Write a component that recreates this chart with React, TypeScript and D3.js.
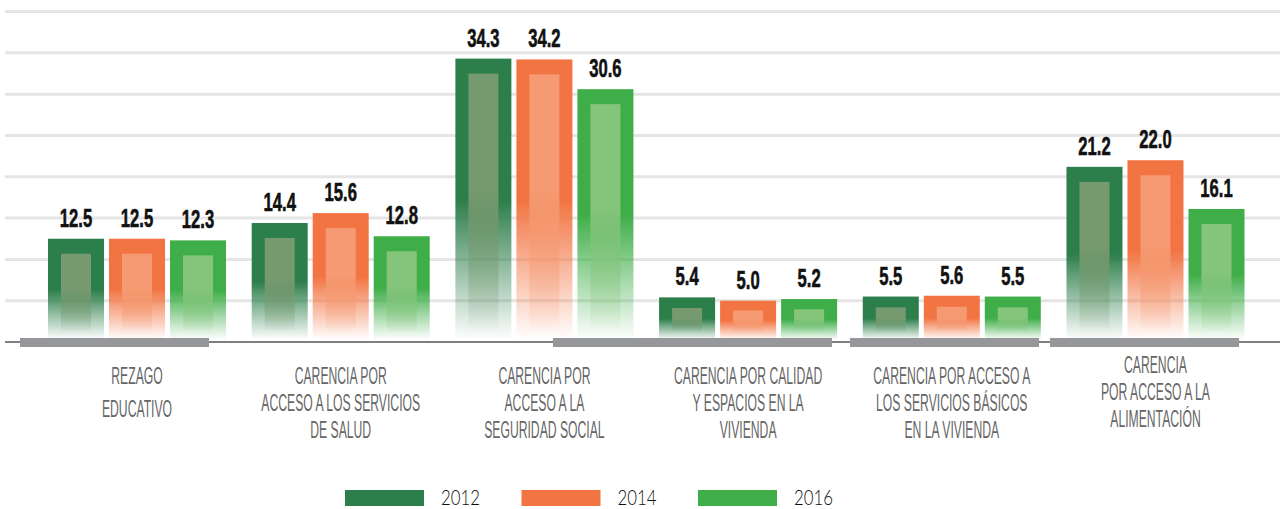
import React from "react";
import * as d3 from "d3";

const categories = [
  "Rezago educativo",
  "Servicios de salud",
  "Seguridad social",
  "Calidad y espacios",
  "Servicios básicos",
  "Alimentación",
];
const labelLines = [
  ["REZAGO", "EDUCATIVO"],
  ["CARENCIA POR", "ACCESO A LOS SERVICIOS", "DE SALUD"],
  ["CARENCIA POR", "ACCESO A LA", "SEGURIDAD SOCIAL"],
  ["CARENCIA POR CALIDAD", "Y ESPACIOS EN LA", "VIVIENDA"],
  ["CARENCIA POR ACCESO A", "LOS SERVICIOS BÁSICOS", "EN LA VIVIENDA"],
  ["CARENCIA", "POR ACCESO A LA", "ALIMENTACIÓN"],
];
const years = ["2012", "2014", "2016"];
const values2012 = [12.5, 14.4, 34.3, 5.4, 5.5, 21.2];
const values2014 = [12.5, 15.6, 34.2, 5.0, 5.6, 22.0];
const values2016 = [12.3, 12.8, 30.6, 5.2, 5.5, 16.1];
const yTicks = [0, 5, 10, 15, 20, 25, 30, 35, 40];

const colors = ["#2c7e4a", "#f27442", "#3fae49"];
const innerColors = ["#76996f", "#f59a72", "#84c47b"];

const W = 1280;
const H = 509;
const baseY = 342;

// decorative gray segments on the baseline
const graySegments = [
  [20, 209],
  [553, 832],
  [850, 1039],
  [1050, 1239],
];

export default function App() {
  const series = [values2012, values2014, values2016];
  const x = d3.scaleBand().domain(categories).range([48, 1244.5]).paddingInner(0.126).paddingOuter(0);
  const xi = d3.scaleBand().domain(years).range([0, x.bandwidth()]).paddingInner(0.082);
  const y = d3.scaleLinear().domain([0, 40]).range([baseY, 11.5]);

  return (
    <svg width={W} height={H} style={{ position: "absolute", left: 0, top: 0 }}>
      <defs>
        {colors.map((c, i) => (
          <linearGradient key={i} id={`fade${i}`} x1="0" y1="0" x2="0" y2="1">
            <stop offset="0" stopColor={c} />
            <stop offset="0.5" stopColor={c} />
            <stop offset="1" stopColor={c} stopOpacity={0} />
          </linearGradient>
        ))}
        {innerColors.map((c, i) => (
          <linearGradient key={i} id={`fadeIn${i}`} x1="0" y1="0" x2="0" y2="1">
            <stop offset="0" stopColor={c} />
            <stop offset="0.45" stopColor={c} />
            <stop offset="1" stopColor={c} stopOpacity={0} />
          </linearGradient>
        ))}
      </defs>
      <rect width={W} height={H} fill="#fff" />
      {yTicks.slice(1).map((t) => (
        <line key={t} x1={5} x2={W} y1={y(t)} y2={y(t)} stroke="#e5e5e5" strokeWidth={3} />
      ))}

      {categories.map((cat, ci) =>
        series.map((vals, si) => {
          const bx = (x(cat) as number) + (xi(years[si]) as number);
          const bw = xi.bandwidth();
          const top = y(vals[ci]);
          const h = baseY - 2 - top;
          const inset = Math.min(15, h * 0.25);
          return (
            <g key={`${ci}-${si}`}>
              <rect x={bx} y={top} width={bw} height={h} fill={`url(#fade${si})`} />
              <rect x={bx + 13} y={top + inset} width={bw - 26} height={h - inset - 8} fill={`url(#fadeIn${si})`} />
              <text
                transform={`translate(${bx + bw / 2},${top - 12}) scale(0.64,1)`}
                textAnchor="middle"
                fontFamily="'Liberation Sans', Arial, sans-serif"
                fontWeight={700}
                fontSize={26}
                fill="#111"
                stroke="#111"
                strokeWidth={0.6}
              >
                {vals[ci].toFixed(1)}
              </text>
            </g>
          );
        })
      )}

      <line x1={5} x2={W} y1={baseY} y2={baseY} stroke="#555" strokeWidth={1.5} />
      {graySegments.map(([a, b], i) => (
        <rect key={i} x={a} y={baseY - 4} width={b - a} height={9} fill="#96979b" />
      ))}

      {categories.map((cat, ci) => {
        const cx = (x(cat) as number) + x.bandwidth() / 2;
        const lines = labelLines[ci];
        const start = ci === 5 ? 373 : 384;
        const lh = lines.length === 2 ? 33 : 27;
        return (
          <g key={cat} transform={`translate(${cx},0) scale(0.53,1)`}>
            <text textAnchor="middle" fontFamily="'Liberation Sans', Arial, sans-serif" fontSize={23} fill="#666">
              {lines.map((l, li) => (
                <tspan key={li} x={0} y={start + li * lh}>
                  {l}
                </tspan>
              ))}
            </text>
          </g>
        );
      })}

      {years.map((yr, i) => (
        <g key={yr} transform={`translate(${345 + i * 176.5},490)`}>
          <rect width={79} height={16} fill={colors[i]} />
          <text
            x={96}
            y={14.5}
            textLength={39}
            lengthAdjust="spacingAndGlyphs"
            fontFamily="Lato, sans-serif"
            fontWeight={300}
            fontSize={21}
            fill="#111"
          >
            {yr}
          </text>
        </g>
      ))}
    </svg>
  );
}
